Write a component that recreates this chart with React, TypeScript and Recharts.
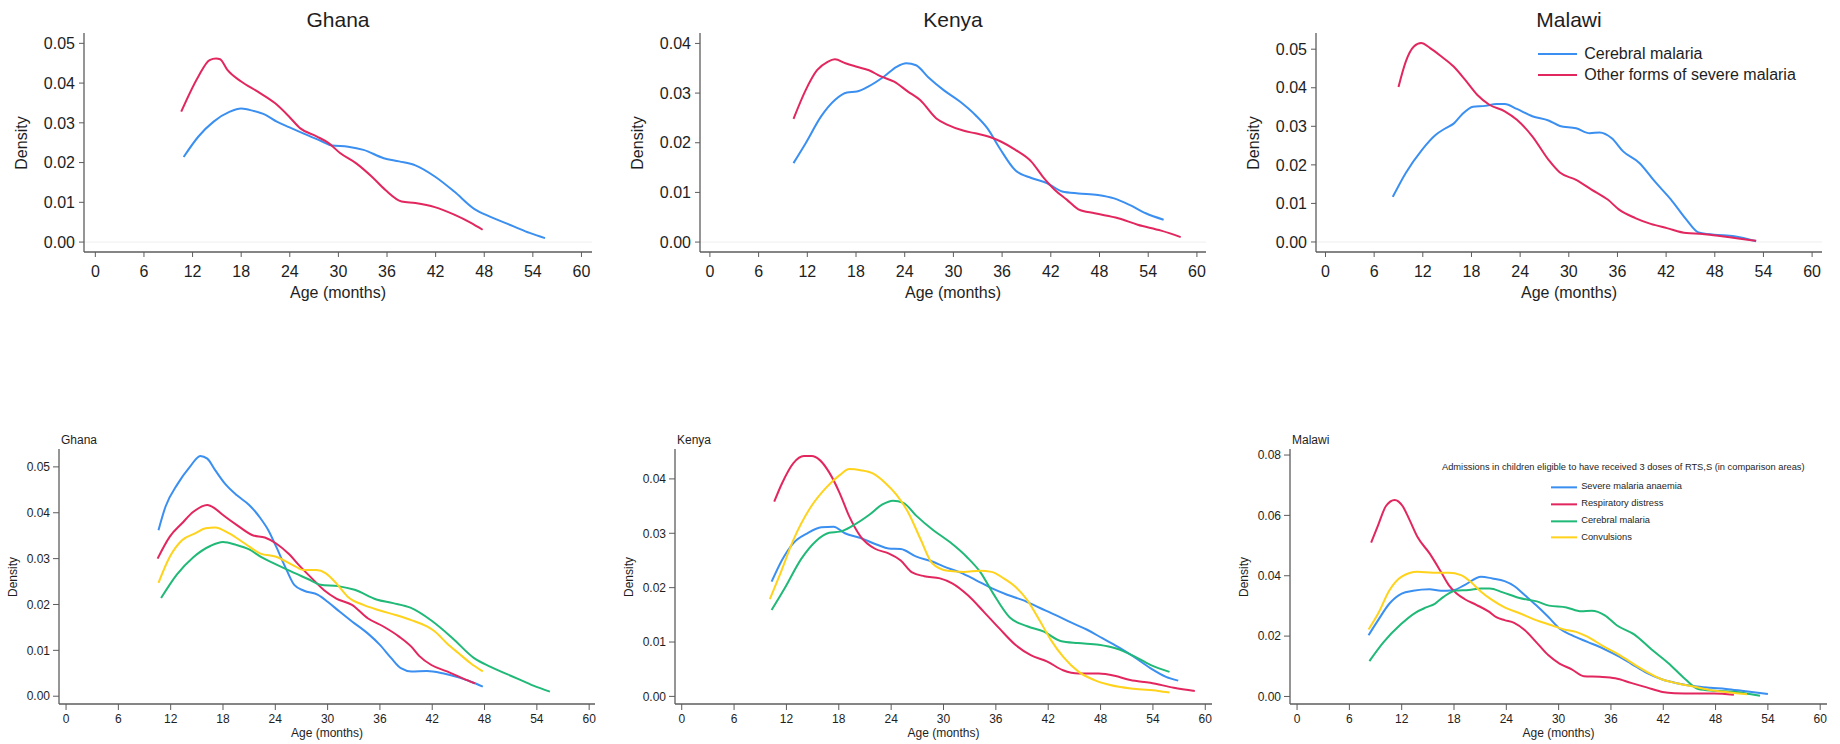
import { LineChart, Line, XAxis, YAxis, ReferenceLine } from "recharts";

type Pt = [number, number];

const FONT = '"Liberation Sans", Arial, sans-serif';
const TEXT = "#1e1e1e";
const AXIS = "#5c5c5c";

const BLUE = "#3a8ff0";
const RED = "#e2265e";
const GREEN = "#20b977";
const YELLOW = "#ffd21c";

const ageTicks = [0, 6, 12, 18, 24, 30, 36, 42, 48, 54, 60];
const ticks05 = [0, 0.01, 0.02, 0.03, 0.04, 0.05];
const ticks04 = [0, 0.01, 0.02, 0.03, 0.04];
const ticks08 = [0, 0.02, 0.04, 0.06, 0.08];

// cerebral malaria densities (same curves appear in top and bottom rows)
const ghanaCerebral: Pt[] = [
  [10.9, 0.0214], [12.7, 0.0265], [14.6, 0.0303], [16.6, 0.0328], [18.0, 0.0336], [19.5, 0.033],
  [21.0, 0.032], [22.4, 0.0303], [23.9, 0.0289], [25.8, 0.0272], [27.8, 0.0255], [29.2, 0.0243],
  [31.2, 0.024], [33.1, 0.0232], [35.6, 0.0211], [37.5, 0.0203], [39.5, 0.0193], [41.9, 0.0165],
  [44.3, 0.0127], [46.8, 0.0083], [48.7, 0.0064], [51.7, 0.0039], [53.6, 0.0023], [55.5, 0.001],
];
const kenyaCerebral: Pt[] = [
  [10.3, 0.0159], [11.8, 0.0199], [13.7, 0.0253], [15.4, 0.0286], [16.9, 0.0301], [18.1, 0.0303],
  [19.6, 0.0314], [21.5, 0.0334], [23.0, 0.0353], [24.2, 0.036], [25.4, 0.0356], [26.9, 0.0332],
  [28.8, 0.0306], [30.8, 0.0283], [32.7, 0.0256], [34.2, 0.0229], [35.7, 0.0189], [37.6, 0.0145],
  [39.6, 0.0129], [41.5, 0.0119], [43.4, 0.0102], [45.4, 0.0098], [47.8, 0.0095], [49.8, 0.0088],
  [51.7, 0.0075], [53.7, 0.0058], [55.9, 0.0045],
];
const malawiCerebral: Pt[] = [
  [8.3, 0.0117], [9.9, 0.0179], [11.9, 0.0239], [13.6, 0.0278], [14.8, 0.0295], [15.8, 0.0307],
  [16.8, 0.033], [18.2, 0.0351], [19.7, 0.0353], [21.1, 0.0358], [22.1, 0.0358], [23.6, 0.0345],
  [25.5, 0.0326], [27.5, 0.0315], [28.9, 0.0301], [30.9, 0.0295], [32.6, 0.0282], [33.8, 0.0284],
  [35.3, 0.0269], [36.7, 0.0235], [38.7, 0.0205], [40.6, 0.0157], [42.6, 0.011], [44.5, 0.0058],
  [46.0, 0.0025], [47.9, 0.0019], [50.4, 0.0015], [53.1, 0.0002],
];

// other forms of severe malaria
const ghanaOther: Pt[] = [
  [10.6, 0.0328], [12.7, 0.0416], [14.1, 0.0458], [14.9, 0.0462], [15.4, 0.046], [16.3, 0.0433],
  [18.0, 0.0404], [20.0, 0.0379], [22.2, 0.0349], [23.9, 0.0316], [25.3, 0.0286], [27.3, 0.0266],
  [28.8, 0.0249], [30.2, 0.0224], [32.2, 0.0198], [34.1, 0.0165], [35.8, 0.0131], [37.8, 0.0102],
  [39.5, 0.0098], [41.9, 0.0088], [44.3, 0.0069], [46.3, 0.0049], [47.8, 0.0031],
];
const kenyaOther: Pt[] = [
  [10.3, 0.0248], [11.8, 0.0306], [13.2, 0.0346], [14.5, 0.0363], [15.4, 0.0368], [16.7, 0.036],
  [18.1, 0.0353], [19.6, 0.0346], [21.0, 0.0334], [22.7, 0.0323], [24.4, 0.0303], [25.9, 0.0286],
  [27.9, 0.0249], [29.3, 0.0236], [31.3, 0.0224], [32.7, 0.0219], [34.4, 0.0212], [35.9, 0.0202],
  [37.6, 0.0186], [39.6, 0.0162], [41.0, 0.0132], [42.5, 0.0105], [44.0, 0.0085], [45.4, 0.0066],
  [47.4, 0.0058], [50.3, 0.0048], [52.7, 0.0035], [55.6, 0.0023], [58.0, 0.001],
];
const malawiOther: Pt[] = [
  [9.0, 0.0402], [9.9, 0.0468], [10.9, 0.0507], [11.8, 0.0516], [12.9, 0.0503], [14.3, 0.0481],
  [15.8, 0.0455], [17.2, 0.0421], [18.7, 0.0382], [20.2, 0.0356], [22.1, 0.0339], [23.6, 0.0317],
  [25.5, 0.0274], [27.5, 0.0213], [28.9, 0.018], [30.9, 0.0161], [32.8, 0.0136], [34.8, 0.011],
  [36.2, 0.0084], [38.2, 0.0062], [40.1, 0.0047], [42.1, 0.0036], [44.5, 0.0023], [46.5, 0.0021],
  [48.4, 0.0016], [50.9, 0.0009], [53.1, 0.0003],
];

// severe malaria anaemia
const ghanaSma: Pt[] = [
  [10.6, 0.0362], [11.4, 0.0413], [12.8, 0.0463], [14.2, 0.05], [15.4, 0.0524], [16.2, 0.0518],
  [17.1, 0.0493], [18.2, 0.0464], [19.6, 0.0438], [21.0, 0.0417], [22.3, 0.0388], [23.2, 0.0362],
  [24.1, 0.0326], [25.3, 0.0275], [26.2, 0.0242], [27.3, 0.023], [28.9, 0.0221], [30.0, 0.0206],
  [31.4, 0.0184], [32.8, 0.0163], [34.6, 0.0137], [36.0, 0.0112], [37.3, 0.0083], [38.4, 0.0061],
  [39.6, 0.0054], [41.4, 0.0055], [43.2, 0.005], [45.0, 0.0041], [46.4, 0.0032], [47.8, 0.0021],
];
const kenyaSma: Pt[] = [
  [10.3, 0.0211], [11.5, 0.0251], [12.8, 0.0282], [14.4, 0.03], [16.0, 0.0311], [17.4, 0.0312],
  [18.7, 0.03], [20.5, 0.0291], [22.4, 0.0279], [23.7, 0.0272], [25.1, 0.0271], [26.9, 0.0257],
  [28.7, 0.0248], [30.0, 0.0239], [31.9, 0.0228], [33.7, 0.0214], [35.5, 0.0199], [37.3, 0.0187],
  [39.1, 0.0177], [41.0, 0.0163], [42.8, 0.015], [44.6, 0.0136], [46.4, 0.0123], [48.2, 0.0107],
  [50.0, 0.0091], [51.8, 0.0073], [53.7, 0.0052], [55.5, 0.0036], [56.9, 0.0029],
];
const malawiSma: Pt[] = [
  [8.2, 0.0203], [9.3, 0.0253], [10.6, 0.0308], [12.0, 0.0341], [13.3, 0.035], [15.2, 0.0355],
  [16.5, 0.035], [17.9, 0.0352], [19.2, 0.0369], [21.1, 0.0397], [22.4, 0.0391], [23.8, 0.0382],
  [24.9, 0.0366], [26.1, 0.0336], [27.4, 0.0303], [28.8, 0.0264], [30.1, 0.0225], [31.5, 0.0203],
  [33.3, 0.0181], [35.1, 0.0159], [37.0, 0.0131], [38.3, 0.0109], [40.1, 0.0078], [41.9, 0.0056],
  [43.7, 0.0043], [45.6, 0.0034], [47.4, 0.0029], [49.2, 0.0025], [51.0, 0.0019], [54.0, 0.0008],
];

// respiratory distress
const ghanaResp: Pt[] = [
  [10.5, 0.03], [11.9, 0.0348], [13.3, 0.0377], [14.6, 0.0402], [16.2, 0.0417], [17.1, 0.0409],
  [18.0, 0.0395], [19.6, 0.0373], [21.4, 0.0351], [22.8, 0.0346], [24.1, 0.0333], [25.5, 0.0311],
  [26.9, 0.0282], [28.2, 0.0257], [29.6, 0.0231], [31.0, 0.0213], [32.8, 0.0199], [34.6, 0.017],
  [36.4, 0.0152], [38.2, 0.013], [39.6, 0.0108], [40.5, 0.0088], [41.9, 0.0068], [43.7, 0.0054],
  [45.5, 0.0039], [46.9, 0.0028],
];
const kenyaResp: Pt[] = [
  [10.6, 0.0358], [11.5, 0.0392], [12.8, 0.0429], [14.0, 0.0442], [14.9, 0.0442], [15.8, 0.0435],
  [16.9, 0.0412], [18.1, 0.0374], [19.2, 0.0331], [20.5, 0.0294], [22.1, 0.0272], [23.7, 0.0263],
  [25.1, 0.025], [26.4, 0.0228], [27.8, 0.0221], [29.6, 0.0217], [31.0, 0.0208], [32.8, 0.0186],
  [34.6, 0.0156], [36.4, 0.0125], [38.3, 0.0094], [40.0, 0.0076], [41.9, 0.0064], [43.7, 0.0048],
  [45.5, 0.0042], [47.8, 0.0042], [49.6, 0.0038], [51.4, 0.003], [53.7, 0.0025], [56.4, 0.0016],
  [58.8, 0.001],
];
const malawiResp: Pt[] = [
  [8.5, 0.051], [9.3, 0.0568], [10.2, 0.0631], [11.2, 0.0651], [12.1, 0.0631], [12.9, 0.0585],
  [13.8, 0.0529], [15.2, 0.0474], [16.5, 0.0413], [17.4, 0.0369], [18.3, 0.0341], [19.2, 0.0323],
  [20.6, 0.0303], [22.0, 0.0281], [22.9, 0.0262], [23.8, 0.0253], [24.9, 0.0244], [26.1, 0.022],
  [27.4, 0.0181], [28.8, 0.0137], [30.1, 0.0109], [31.5, 0.009], [32.9, 0.0067], [34.7, 0.0065],
  [36.5, 0.006], [38.3, 0.0045], [40.1, 0.003], [41.9, 0.0015], [43.3, 0.0011], [45.6, 0.001],
  [47.8, 0.001], [50.1, 0.0006],
];

// convulsions
const ghanaConv: Pt[] = [
  [10.6, 0.0247], [11.9, 0.0304], [13.3, 0.034], [14.8, 0.0355], [16.0, 0.0366], [17.1, 0.0368],
  [18.7, 0.0355], [20.5, 0.0333], [22.3, 0.0311], [24.1, 0.0304], [26.0, 0.0286], [27.3, 0.0275],
  [28.7, 0.0275], [29.8, 0.0268], [31.0, 0.0246], [32.3, 0.0217], [34.1, 0.0199], [36.0, 0.0187],
  [37.8, 0.0177], [39.6, 0.0166], [41.4, 0.0152], [42.3, 0.0141], [43.7, 0.0115], [45.0, 0.0094],
  [46.4, 0.0072], [47.8, 0.0054],
];
const kenyaConv: Pt[] = [
  [10.1, 0.0179], [11.3, 0.0226], [12.8, 0.0288], [14.7, 0.0346], [16.5, 0.0383], [18.1, 0.0407],
  [19.2, 0.0418], [20.5, 0.0416], [21.9, 0.041], [23.3, 0.0393], [24.6, 0.0371], [26.0, 0.0337],
  [27.4, 0.0288], [28.7, 0.0245], [30.5, 0.0231], [32.3, 0.0229], [34.2, 0.0231], [35.5, 0.0229],
  [36.9, 0.0217], [38.2, 0.0202], [39.6, 0.0177], [41.0, 0.014], [42.3, 0.0104], [43.7, 0.0073],
  [45.5, 0.0045], [47.3, 0.003], [49.1, 0.0021], [51.8, 0.0014], [54.6, 0.001], [55.9, 0.0007],
];
const malawiConv: Pt[] = [
  [8.2, 0.0222], [9.3, 0.0275], [10.6, 0.0352], [12.0, 0.0397], [13.8, 0.0413], [15.6, 0.041],
  [17.4, 0.041], [18.8, 0.0402], [19.9, 0.038], [21.1, 0.0347], [22.4, 0.0319], [23.8, 0.0295],
  [25.6, 0.0275], [27.4, 0.0253], [29.2, 0.0236], [30.6, 0.0222], [32.0, 0.0214], [33.3, 0.0198],
  [35.1, 0.0167], [37.0, 0.0137], [38.8, 0.0104], [40.6, 0.0074], [41.9, 0.0056], [43.7, 0.0043],
  [45.6, 0.0032], [47.4, 0.0021], [49.2, 0.0015], [51.6, 0.0007],
];

interface Series { name: string; color: string; points: Pt[] }
interface Spec {
  country: string;
  left: number; right: number; top: number; bottom: number;
  xDomain: [number, number];
  yDomain: [number, number];
  yTicks: number[];
  series: Series[];
}
interface Look {
  tick: number; label: number; tickSize: number; xMargin: number; yMargin: number;
  densityGap: number; ageGap: number; zeroLine: boolean;
}

const topLook: Look = { tick: 16, label: 16, tickSize: 5, xMargin: 9, yMargin: 4, densityGap: 62, ageGap: 41, zeroLine: true };
const bottomLook: Look = { tick: 12, label: 12, tickSize: 6, xMargin: 4, yMargin: 3, densityGap: 46, ageGap: 29, zeroLine: false };

const topRow = (c: Pt[], o: Pt[]): Series[] => [
  { name: "Cerebral malaria", color: BLUE, points: c },
  { name: "Other forms of severe malaria", color: RED, points: o },
];
const bottomRow = (s: Pt[], r: Pt[], c: Pt[], v: Pt[]): Series[] => [
  { name: "Severe malaria anaemia", color: BLUE, points: s },
  { name: "Respiratory distress", color: RED, points: r },
  { name: "Cerebral malaria", color: GREEN, points: c },
  { name: "Convulsions", color: YELLOW, points: v },
];

const topSpecs: Spec[] = [
  { country: "Ghana", left: 84, right: 592, top: 33, bottom: 252, xDomain: [-1.4, 61.3], yDomain: [-0.0025, 0.0526], yTicks: ticks05, series: topRow(ghanaCerebral, ghanaOther) },
  { country: "Kenya", left: 700, right: 1206, top: 33, bottom: 252, xDomain: [-1.22, 61.12], yDomain: [-0.002, 0.0421], yTicks: ticks04, series: topRow(kenyaCerebral, kenyaOther) },
  { country: "Malawi", left: 1316, right: 1822, top: 33, bottom: 252, xDomain: [-1.17, 61.22], yDomain: [-0.0026, 0.0542], yTicks: ticks05, series: topRow(malawiCerebral, malawiOther) },
];
const bottomSpecs: Spec[] = [
  { country: "Ghana", left: 59, right: 595, top: 449, bottom: 704, xDomain: [-0.81, 60.67], yDomain: [-0.0017, 0.0539], yTicks: ticks05, series: bottomRow(ghanaSma, ghanaResp, ghanaCerebral, ghanaConv) },
  { country: "Kenya", left: 675, right: 1212, top: 449, bottom: 704, xDomain: [-0.77, 60.77], yDomain: [-0.0014, 0.0455], yTicks: ticks04, series: bottomRow(kenyaSma, kenyaResp, kenyaCerebral, kenyaConv) },
  { country: "Malawi", left: 1290, right: 1827, top: 449, bottom: 704, xDomain: [-0.81, 60.78], yDomain: [-0.0025, 0.082], yTicks: ticks08, series: bottomRow(malawiSma, malawiResp, malawiCerebral, malawiConv) },
];

const toRows = (pts: Pt[]) => pts.map(([age, density]) => ({ age, density }));

function Panel({ spec, look }: { spec: Spec; look: Look }) {
  const yw = 100, xh = 50, m = 12;
  const w = yw + (spec.right - spec.left) + m;
  const h = m + (spec.bottom - spec.top) + xh;
  const tickStyle = { fill: TEXT, fontSize: look.tick, fontFamily: FONT };
  const midY = (spec.top + spec.bottom) / 2;
  const midX = (spec.left + spec.right) / 2;
  return (
    <>
      <div style={{ position: "absolute", left: spec.left - yw, top: spec.top - m }}>
        <LineChart width={w} height={h} margin={{ top: m, right: m, left: 0, bottom: 0 }}>
          <XAxis
            type="number" dataKey="age" domain={spec.xDomain} ticks={ageTicks} allowDataOverflow
            interval={0} height={xh} tickSize={look.tickSize} tickMargin={look.xMargin}
            axisLine={{ stroke: AXIS, strokeWidth: 1.3 }} tickLine={{ stroke: AXIS }} tick={tickStyle}
          />
          <YAxis
            type="number" domain={spec.yDomain} ticks={spec.yTicks} allowDataOverflow interval={0}
            width={yw} tickSize={look.tickSize} tickMargin={look.yMargin}
            axisLine={{ stroke: AXIS, strokeWidth: 1.3 }} tickLine={{ stroke: AXIS }} tick={tickStyle}
            tickFormatter={(v: number) => v.toFixed(2)}
          />
          {look.zeroLine && <ReferenceLine y={0} stroke="#efefef" />}
          {spec.series.map((s) => (
            <Line
              key={s.name} data={toRows(s.points)} dataKey="density" name={s.name} type="monotone"
              stroke={s.color} strokeWidth={2} dot={false} isAnimationActive={false}
            />
          ))}
        </LineChart>
      </div>
      <div style={{ ...centered(spec.left - look.densityGap, midY, look.label), transform: "translate(-50%, -50%) rotate(-90deg)" }}>
        Density
      </div>
      <div style={centered(midX, spec.bottom + look.ageGap, look.label)}>Age (months)</div>
    </>
  );
}

function centered(x: number, y: number, size: number): React.CSSProperties {
  return {
    position: "absolute", left: x, top: y, transform: "translate(-50%, -50%)",
    fontSize: size, fontFamily: FONT, color: TEXT, lineHeight: 1, whiteSpace: "nowrap",
  };
}

function LegendRow({ x, y, color, label, size, lineW }: { x: number; y: number; color: string; label: string; size: number; lineW: number }) {
  return (
    <div style={{ position: "absolute", left: x, top: y, transform: "translateY(-50%)", display: "flex", alignItems: "center", fontFamily: FONT, fontSize: size, color: TEXT, whiteSpace: "nowrap", lineHeight: 1 }}>
      <span style={{ display: "inline-block", width: lineW, height: 2, background: color, marginRight: size * 0.45 }} />
      {label}
    </div>
  );
}

export default function App() {
  const topLegend = topSpecs[2].series;
  const bottomLegend = bottomSpecs[2].series;
  return (
    <div style={{ position: "absolute", left: 0, top: 0, width: 1840, height: 744, background: "#fff", overflow: "hidden" }}>
      {topSpecs.map((s) => (
        <div key={"t" + s.country}>
          <Panel spec={s} look={topLook} />
          <div style={centered((s.left + s.right) / 2, 19, 21)}>{s.country}</div>
        </div>
      ))}
      {bottomSpecs.map((s) => (
        <div key={"b" + s.country}>
          <Panel spec={s} look={bottomLook} />
          <div style={{ position: "absolute", left: s.left + 2, top: 440, transform: "translateY(-50%)", fontSize: 12, fontFamily: FONT, color: TEXT, lineHeight: 1 }}>
            {s.country}
          </div>
        </div>
      ))}

      {topLegend.map((s, i) => (
        <LegendRow key={s.name} x={1538} y={54 + i * 21} color={s.color} label={s.name} size={16} lineW={39} />
      ))}
      <div style={{ position: "absolute", left: 1442, top: 468, transform: "translateY(-50%)", fontSize: 9.3, fontFamily: FONT, color: TEXT, lineHeight: 1, whiteSpace: "nowrap" }}>
        Admissions in children eligible to have received 3 doses of RTS,S (in comparison areas)
      </div>
      {bottomLegend.map((s, i) => (
        <LegendRow key={s.name} x={1551} y={487.3 + i * 16.8} color={s.color} label={s.name} size={9.3} lineW={26} />
      ))}
    </div>
  );
}
